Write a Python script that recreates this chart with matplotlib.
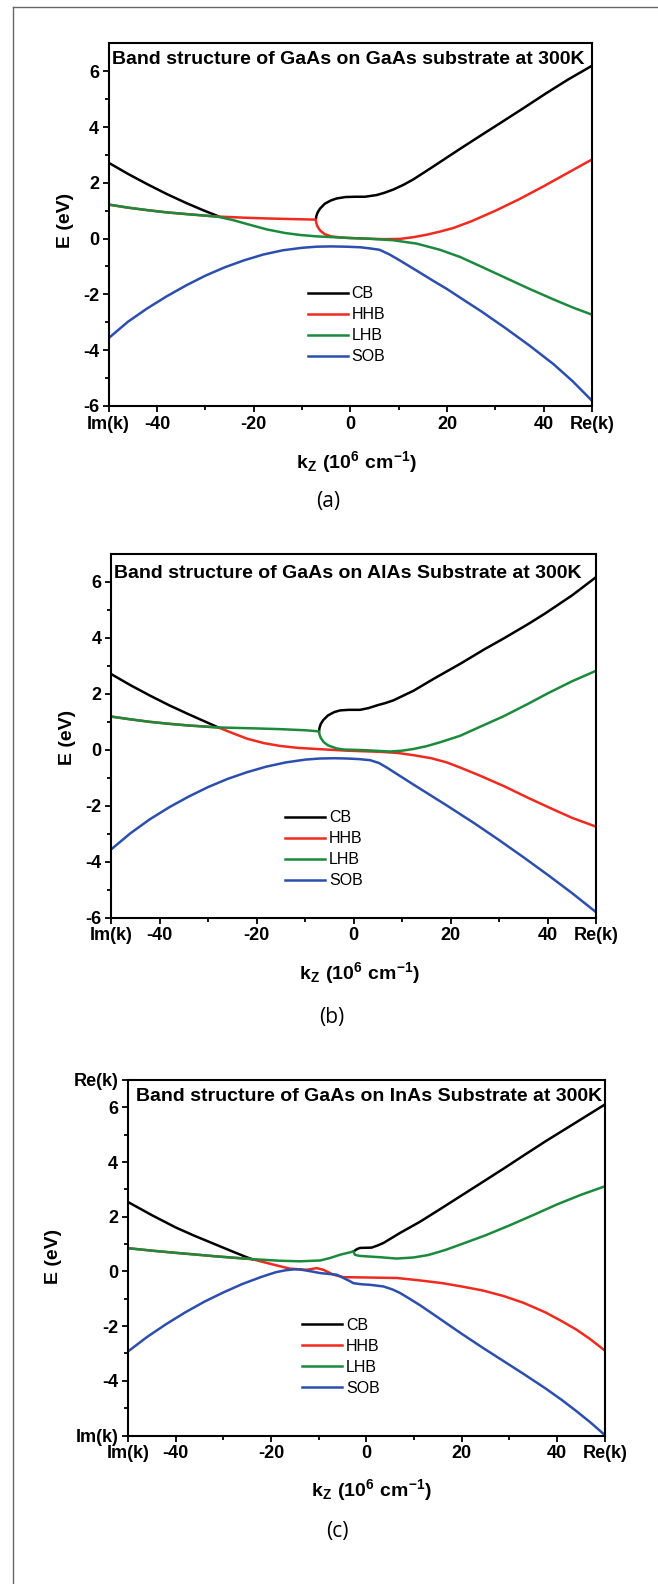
import numpy as np
import matplotlib
matplotlib.use("Agg")
import matplotlib.pyplot as plt
from matplotlib.lines import Line2D
from matplotlib.ticker import FixedLocator, FixedFormatter

nan = np.nan

plt.rcParams["font.family"] = ["Liberation Sans", "DejaVu Sans"]
plt.rcParams["mathtext.fontset"] = "custom"
plt.rcParams["mathtext.rm"] = "Liberation Sans"
plt.rcParams["mathtext.bf"] = "Liberation Sans:bold"

# ---- data (k in 1e6 cm^-1, E in eV) ----
band_names = ["CB", "HHB", "LHB", "SOB"]
band_colors = ["#000000", "#f02a1e", "#1b8a3c", "#2c4fae"]
xtick_vals = [-50, -40, -20, 0, 20, 40, 50]
xtick_labels = ["Im(k)", "-40", "-20", "0", "20", "40", "Re(k)"]
panel_titles = [
    "Band structure of GaAs on GaAs substrate at 300K",
    "Band structure of GaAs on AlAs Substrate at 300K",
    "Band structure of GaAs on InAs Substrate at 300K",
]
captions = ["(a)", "(b)", "(c)"]

# (a) GaAs substrate
a_cb_k = [-50, -46, -42, -38, -34, -30.5, -27.3, nan, -7.15, -7.05, -6.8, -6.3, -5.3, -4.0, -2.8, -1.0, 1.0,
          3.0, 5.4, 7.0, 8.9, 11, 13.0, 17.1, 22.7, 27.0, 31.7, 36.0, 40.4, 45.0, 50]
a_cb_e = [2.72, 2.32, 1.95, 1.60, 1.28, 1.02, 0.80, nan, 0.68, 0.80, 0.93, 1.07, 1.25, 1.37, 1.44, 1.49, 1.50,
          1.50, 1.56, 1.64, 1.76, 1.93, 2.12, 2.58, 3.22, 3.70, 4.22, 4.70, 5.20, 5.70, 6.20]
a_hh_k = [-50, -46, -42, -38, -34, -30.5, -27.3, -22, -16.9, -12, -7.15, -7.05, -6.8, -6.2, -5.3, -4.0, -2.0,
          0, 3.0, 7.0, 10.3, 13.0, 15.8, 18.5, 21.3, 25, 30, 35, 40, 45, 50]
a_hh_e = [1.22, 1.11, 1.02, 0.94, 0.88, 0.83, 0.79, 0.75, 0.72, 0.70, 0.68, 0.56, 0.43, 0.28, 0.16, 0.08, 0.04,
          0.02, 0.0, -0.02, -0.01, 0.05, 0.14, 0.25, 0.38, 0.62, 1.0, 1.42, 1.88, 2.36, 2.84]
a_lh_k = [-50, -46, -42, -38, -34, -30.5, -27.3, -24.2, -20.5, -17.3, -13.5, -10.4, -7.0, -3.5, 0, 3.4, 8.9,
          13.7, 18.5, 22.7, 27, 32, 37, 42, 46, 50]
a_lh_e = [1.22, 1.11, 1.02, 0.94, 0.88, 0.83, 0.78, 0.66, 0.48, 0.33, 0.20, 0.13, 0.08, 0.05, 0.02, 0.0,
          -0.06, -0.18, -0.40, -0.66, -1.00, -1.40, -1.80, -2.18, -2.47, -2.73]
a_so_k = [-50, -46, -42, -38, -34, -30, -26, -22, -18, -14, -10, -7, -4, -1, 2, 4, 6, 8, 10, 12, 14, 17, 20,
          23, 27, 32, 37, 42, 46, 50]
a_so_e = [-3.57, -2.98, -2.50, -2.07, -1.68, -1.33, -1.03, -0.78, -0.57, -0.42, -0.33, -0.29, -0.28, -0.29,
          -0.31, -0.35, -0.40, -0.56, -0.76, -0.97, -1.18, -1.50, -1.81, -2.15, -2.60, -3.20, -3.83, -4.50,
          -5.12, -5.82]

# (b) AlAs substrate
b_cb_k = [-50, -46, -42, -38, -34, -30.5, -27.9, nan, -7.15, -7.05, -6.8, -6.3, -5.3, -4.0, -2.8, -1.0, 1.3,
          3.0, 5.0, 6.5, 8.2, 10, 12.3, 16.4, 22.2, 27, 30.9, 36, 39.5, 45, 50]
b_cb_e = [2.71, 2.31, 1.94, 1.59, 1.27, 1.00, 0.80, nan, 0.66, 0.78, 0.92, 1.06, 1.23, 1.35, 1.41, 1.43, 1.43,
          1.49, 1.60, 1.67, 1.77, 1.92, 2.11, 2.53, 3.10, 3.60, 3.98, 4.50, 4.88, 5.52, 6.18]
b_hh_k = [-50, -46, -42, -38, -34, -30.5, -27.9, -25, -22, -18.5, -15.2, -11.5, -7.6, -1.4, 5.4, 9.0, 12.3,
          16.0, 19.2, 21.9, 26, 31, 36, 41, 45, 50]
b_hh_e = [1.19, 1.09, 1.00, 0.93, 0.87, 0.83, 0.80, 0.60, 0.40, 0.24, 0.14, 0.07, 0.03, -0.03, -0.07, -0.11,
          -0.19, -0.30, -0.45, -0.63, -0.92, -1.30, -1.72, -2.12, -2.43, -2.75]
b_lh_k = [-50, -46, -42, -38, -34, -30.5, -27.9, -21, -15.2, -10, -7.15, -7.05, -6.8, -6.2, -5.3, -3.5, -2.0,
          2.0, 7.5, 10, 12.3, 15, 17.8, 21.9, 26, 30.9, 36, 40, 45, 50]
b_lh_e = [1.19, 1.09, 1.00, 0.93, 0.87, 0.83, 0.80, 0.77, 0.74, 0.70, 0.66, 0.55, 0.43, 0.28, 0.16, 0.05, 0.01,
          -0.01, -0.06, -0.03, 0.03, 0.13, 0.27, 0.50, 0.82, 1.20, 1.65, 2.02, 2.45, 2.83]
b_so_k = [-50, -46, -42, -38, -34, -30, -26, -22, -18, -14, -10, -7, -4, -1.4, 1.0, 3.4, 5.2, 6.8, 9.5, 12.3,
          15.8, 19.2, 25, 30, 35, 40, 45, 50]
b_so_e = [-3.56, -2.98, -2.48, -2.05, -1.67, -1.33, -1.04, -0.80, -0.60, -0.45, -0.35, -0.31, -0.30, -0.31,
          -0.33, -0.37, -0.47, -0.63, -0.93, -1.24, -1.62, -1.99, -2.64, -3.23, -3.84, -4.47, -5.12, -5.81]

# (c) InAs substrate
c_cb_k = [-50, -45, -40, -36, -32.1, -28.5, -25.1, -24.0, nan, -2.7, -1.9, -1.3, 1.1, 2.4, 3.6, 5.3, 7.1,
          11.3, 15.5, 20, 24.5, 28.8, 33, 37.6, 44, 50]
c_cb_e = [2.54, 2.06, 1.61, 1.30, 1.02, 0.76, 0.52, 0.45, nan, 0.73, 0.82, 0.86, 0.87, 0.95, 1.04, 1.22, 1.41,
          1.82, 2.28, 2.78, 3.28, 3.76, 4.24, 4.76, 5.45, 6.10]
c_hh_k = [-50, -45, -40, -36, -32.1, -28.5, -24.0, -19.5, -16.0, -12.5, -10.4, -9.0, -6.9, -4.8, -0.6, 6.4,
          11.3, 16, 20, 24.5, 28.8, 33, 37.6, 41, 44, 47, 50]
c_hh_e = [0.85, 0.76, 0.68, 0.62, 0.56, 0.51, 0.45, 0.25, 0.10, 0.06, 0.12, 0.06, -0.12, -0.21, -0.22, -0.24,
          -0.33, -0.43, -0.55, -0.70, -0.90, -1.15, -1.50, -1.82, -2.12, -2.48, -2.89]
c_lh_k = [-50, -45, -40, -36, -32.1, -28.5, -24.0, -18.1, -13.9, -9.7, -7.6, -5.5, -3.4, -2.7, -2.4, -1.5,
          0.1, 2.9, 6.4, 9.9, 13, 16.5, 20, 25, 30, 35, 40, 45, 50]
c_lh_e = [0.85, 0.76, 0.68, 0.62, 0.56, 0.51, 0.45, 0.39, 0.37, 0.40, 0.49, 0.61, 0.70, 0.73, 0.61, 0.57,
          0.55, 0.52, 0.47, 0.51, 0.60, 0.78, 1.00, 1.32, 1.68, 2.06, 2.45, 2.80, 3.11]
c_so_k = [-50, -46, -42, -38, -34, -30, -26, -22, -19, -17, -15, -13.9, -11.5, -9.7, -6.2, -4.8, -3.5, -2.7,
          -1.0, 0.8, 3.6, 5.5, 7.1, 9.0, 11.3, 14, 17, 20, 24.5, 28.8, 33, 37.6, 41, 44, 47, 50]
c_so_e = [-2.93, -2.40, -1.93, -1.50, -1.11, -0.77, -0.46, -0.20, -0.03, 0.04, 0.08, 0.07, 0.0, -0.06, -0.12,
          -0.24, -0.35, -0.43, -0.47, -0.49, -0.55, -0.66, -0.79, -0.99, -1.24, -1.56, -1.92, -2.28, -2.80,
          -3.28, -3.75, -4.28, -4.70, -5.10, -5.52, -5.98]

panels = [
    [(a_cb_k, a_cb_e), (a_hh_k, a_hh_e), (a_lh_k, a_lh_e), (a_so_k, a_so_e)],
    [(b_cb_k, b_cb_e), (b_hh_k, b_hh_e), (b_lh_k, b_lh_e), (b_so_k, b_so_e)],
    [(c_cb_k, c_cb_e), (c_hh_k, c_hh_e), (c_lh_k, c_lh_e), (c_so_k, c_so_e)],
]

# ---- layout (pixel boxes of the reference, 658 x 1584) ----
W, H = 658, 1584
axes_px = [(108.6, 43.3, 592.2, 406.0), (111.1, 554.0, 596.3, 917.7), (127.9, 1080.0, 604.7, 1435.5)]
title_px = [(112.5, 60.0), (114.0, 573.3), (136.4, 1096.7)]
legend_px = [(307.6, 286.2), (285.3, 810.2), (302.0, 1317.8)]
xlabel_px = [(356.7, 461.7), (359.6, 973.0), (371.4, 1490.0)]
ylabel_px = [(65.0, 220.0), (67.0, 737.0), (53.7, 1256.7)]
caption_px = [(328.5, 501.7), (331.5, 1018.0), (337.0, 1531.7)]

fig = plt.figure(figsize=(W / 100, H / 100), dpi=100)

# outer frame (left and top edges visible in the reference)
fig.add_artist(Line2D([12.6 / W, 12.6 / W], [0, 1 - 6.7 / H], color="#666666", lw=1.0))
fig.add_artist(Line2D([12.6 / W, 1], [1 - 6.7 / H, 1 - 6.7 / H], color="#666666", lw=1.0))

for i, curves in enumerate(panels):
    x0, y0, x1, y1 = axes_px[i]
    ax = fig.add_axes([x0 / W, 1 - y1 / H, (x1 - x0) / W, (y1 - y0) / H])

    for (k, e), name, col in zip(curves, band_names, band_colors):
        ax.plot(k, e, color=col, lw=1.8, label=name, solid_joinstyle="round")

    ax.set_xlim(-50, 50)
    ax.set_ylim(-6, 7)

    ax.xaxis.set_major_locator(FixedLocator(xtick_vals))
    ax.xaxis.set_major_formatter(FixedFormatter(xtick_labels))
    ax.xaxis.set_minor_locator(FixedLocator([-30, -10, 10, 30]))
    if i == 2:
        yv = [-6, -4, -2, 0, 2, 4, 6, 7]
        yl = ["Im(k)", "-4", "-2", "0", "2", "4", "6", "Re(k)"]
    else:
        yv = [-6, -4, -2, 0, 2, 4, 6]
        yl = ["-6", "-4", "-2", "0", "2", "4", "6"]
    ax.yaxis.set_major_locator(FixedLocator(yv))
    ax.yaxis.set_major_formatter(FixedFormatter(yl))
    ax.yaxis.set_minor_locator(FixedLocator([-5, -3, -1, 1, 3, 5]))

    ax.tick_params(which="both", direction="out", top=False, right=False, width=1.3)
    ax.tick_params(which="major", length=4, labelsize=13, pad=3)
    ax.tick_params(which="minor", length=3)
    for lab in ax.get_xticklabels() + ax.get_yticklabels():
        lab.set_fontweight("bold")
    for sp in ax.spines.values():
        sp.set_linewidth(1.5)

    ax.text((title_px[i][0] - x0) / (x1 - x0), (y1 - title_px[i][1]) / (y1 - y0), panel_titles[i],
            transform=ax.transAxes, ha="left", va="center", fontsize=14, fontweight="bold")

    ax.set_xlabel(r"$\mathbf{k_Z\ (10^6\ cm^{-1})}$", fontsize=14)
    ax.xaxis.set_label_coords((xlabel_px[i][0] - x0) / (x1 - x0), (y1 - xlabel_px[i][1]) / (y1 - y0))
    ax.xaxis.label.set_va("center")
    ax.set_ylabel("E (eV)", fontsize=14, fontweight="bold")
    ax.yaxis.set_label_coords((ylabel_px[i][0] - x0) / (x1 - x0), (y1 - ylabel_px[i][1]) / (y1 - y0))
    ax.yaxis.label.set_va("center")

    ax.legend(loc="upper left", frameon=False, fontsize=11.5,
              bbox_to_anchor=((legend_px[i][0] - x0) / (x1 - x0), (y1 - legend_px[i][1]) / (y1 - y0)),
              borderpad=0, borderaxespad=0, handlelength=2.5, handletextpad=0.25, labelspacing=0.38)

    fig.text(caption_px[i][0] / W, 1 - caption_px[i][1] / H, captions[i], ha="center", va="center",
             fontsize=15, family=["Open Sans", "DejaVu Sans"])

fig.savefig("out.png", dpi=100)
